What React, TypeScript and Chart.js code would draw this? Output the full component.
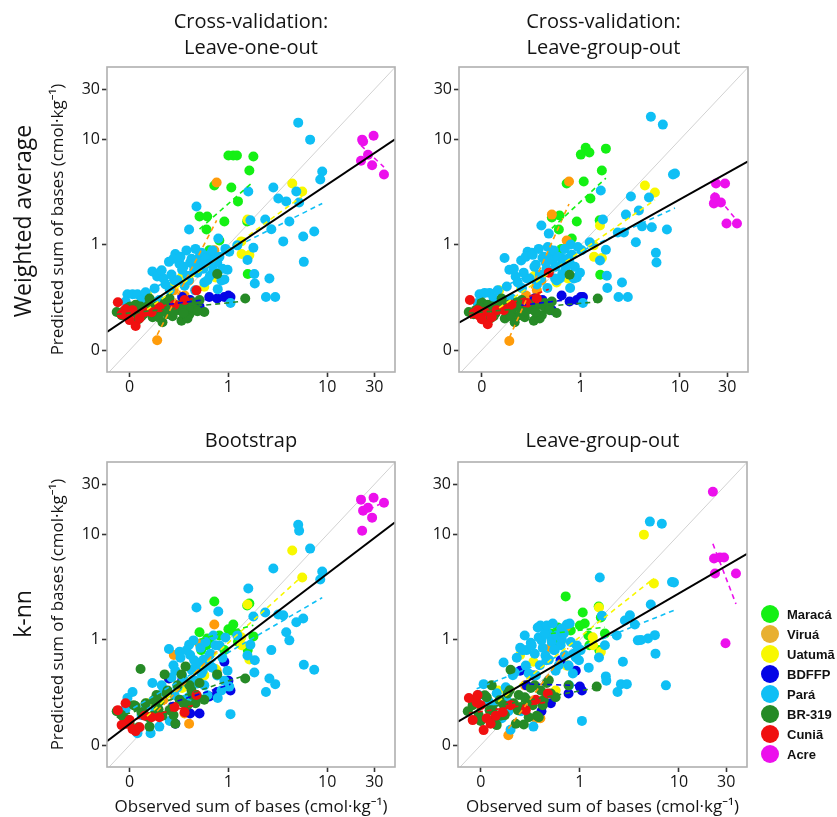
import React, { useEffect, useRef } from 'react';
import { Chart, registerables } from 'chart.js';

Chart.register(...registerables);
Chart.defaults.font.family = "'Open Sans', 'Noto Sans', 'DejaVu Sans', sans-serif";

// ---------- categories ----------
const groupNames = ['Maracá', 'Viruá', 'Uatumã', 'BDFFP', 'Pará', 'BR-319', 'Cuniã', 'Acre'];

// ---------- axis ticks (log axis; lowest tick labelled "0") ----------
const tickValues = [0.1, 1, 10, 30];
const tickLabels = ['0', '1', '10', '30'];

// ---------- observed sum of bases (cmol·kg-1) ----------
const maracaObs = [0.51, 0.61, 0.6, 0.72, 0.91, 1.0, 1.07, 1.12, 1.22, 1.25, 1.55, 1.57, 1.63, 1.79, 0.53, 0.64, 0.81];
const viruaObs = [0.19, 0.22, 0.28, 0.36, 0.4, 0.51, 0.72, 0.76];
const uatumaObs = [0.15, 0.25, 0.34, 0.57, 0.74, 1.35, 1.36, 1.56, 1.63, 4.43, 5.59];
const bdffpObs = [0.25, 0.29, 0.34, 0.41, 0.51, 0.64, 0.77, 0.91, 1.0, 1.05];
const paraObs = [5.09, 6.72, 8.91, 8.51, 2.85, 4.87, 3.2, 3.85, 5.2, 1.59, 0.475, 0.4, 2.36, 1.67, 4.14, 2.72, 7.39, 5.72, 3.59, 1.23, 1.79, 1.02, 0.79, 5.8, 0.64, 0.51, 0.29, 0.77, 1.83, 2.6, 1.85, 0.91, 2.4, 2.98, 1.05, 0.25, 0.17, 0.19, 0.22, 0.32, 0.34, 0.45, 0.55, 0.41, 0.57, 0.74, 0.98, 0.78, 0.095, 0.107, 0.12, 0.091, 0.163, 0.285, 0.36, 0.46, 0.255, 0.65, 1.56, 0.2, 0.385, 0.85,
  0.179, 0.211, 0.231, 0.265, 0.278, 0.305, 0.327, 0.351, 0.376, 0.395, 0.423, 0.443, 0.464, 0.486, 0.521, 0.533, 0.559, 0.586, 0.614, 0.658, 0.689, 0.705, 0.811, 0.87, 0.932, 0.132, 0.145, 0.183];
const br319Obs = [0.074, 0.087, 0.1, 0.115, 0.129, 0.145, 0.171, 0.187, 0.2, 0.226, 0.242, 0.272, 0.29, 0.32, 0.335, 0.368, 0.404, 0.433, 0.464, 0.51, 0.57, 0.77, 1.48, 0.159, 0.254, 0.132, 0.215, 0.385,
  0.083, 0.0954, 0.11, 0.123, 0.138, 0.155, 0.175, 0.196, 0.237, 0.278, 0.305, 0.351, 0.423, 0.486];
const cuniaObs = [0.076, 0.091, 0.093, 0.107, 0.115, 0.142, 0.2, 0.285, 0.36, 0.475, 0.083, 0.1, 0.126, 0.167];
const acreObs = [22.0, 22.6, 23.1, 25.9, 28.5, 29.5, 37.6];

// ---------- predicted: weighted average, cross-validation leave-one-out ----------
const maracaWaLoo = [1.86, 1.86, 1.4, 3.67, 1.67, 7.06, 3.51, 7.06, 7.06, 2.59, 1.67, 0.53, 5.09, 6.91, 0.8, 0.89, 1.1];
const viruaWaLoo = [0.124, 0.24, 0.37, 0.33, 0.46, 0.64, 0.89, 3.92];
const uatumaWaLoo = [0.34, 0.4, 0.5, 0.4, 0.49, 1.08, 0.82, 1.74, 0.8, 3.83, 3.21];
const bdffpWaLoo = [0.27, 0.26, 0.32, 0.3, 0.26, 0.32, 0.31, 0.32, 0.33, 0.32];
const paraWaLoo = [14.5, 10.0, 4.98, 4.18, 3.51, 3.21, 2.76, 2.59, 2.53, 3.21, 2.32, 1.4, 1.74, 1.71, 1.67, 1.41, 1.34, 1.2, 1.08, 0.99, 0.94, 0.86, 1.15, 0.69, 0.8, 0.77, 0.82, 0.68, 0.53, 0.48, 0.43, 0.47, 0.32, 0.32, 0.28, 0.69, 0.56, 0.5, 0.48, 0.66, 0.58, 0.58, 0.61, 0.68, 0.44, 0.75, 0.58, 0.38, 0.34, 0.34, 0.34, 0.29, 0.245, 0.46, 0.41, 0.37, 0.37, 0.51, 0.72, 0.3, 0.51, 0.46,
  0.386, 0.574, 0.421, 0.522, 0.738, 0.461, 0.77, 0.621, 0.887, 0.461, 0.738, 0.648, 0.916, 0.545, 0.677, 0.84, 0.594, 0.738, 0.461, 0.662, 0.887, 0.574, 0.77, 0.594, 0.916, 0.298, 0.354, 0.285];
const br319WaLoo = [0.23, 0.234, 0.26, 0.27, 0.26, 0.245, 0.205, 0.26, 0.23, 0.28, 0.22, 0.21, 0.25, 0.24, 0.19, 0.26, 0.22, 0.285, 0.245, 0.3, 0.23, 0.53, 0.31, 0.31, 0.31, 0.21, 0.184, 0.2,
  0.215, 0.25, 0.229, 0.197, 0.219, 0.267, 0.24, 0.205, 0.25, 0.229, 0.267, 0.224, 0.256, 0.234];
const cuniaWaLoo = [0.285, 0.245, 0.21, 0.24, 0.17, 0.23, 0.255, 0.27, 0.3, 0.37, 0.219, 0.193, 0.201, 0.229];
const acreWaLoo = [6.3, 10.0, 9.6, 7.2, 5.7, 10.9, 4.66];

// ---------- predicted: weighted average, cross-validation leave-group-out ----------
const maracaWaLgo = [1.82, 1.9, 1.4, 3.83, 1.67, 7.21, 4.0, 8.39, 7.54, 2.76, 1.71, 0.52, 5.09, 8.21, 0.84, 0.916, 1.15];
const viruaWaLgo = [0.122, 0.215, 0.33, 0.37, 0.46, 1.94, 1.1, 4.0];
const uatumaWaLgo = [0.37, 0.39, 0.51, 0.44, 0.48, 0.99, 0.77, 1.53, 0.75, 3.67, 3.15];
const bdffpWaLgo = [0.26, 0.26, 0.31, 0.3, 0.24, 0.33, 0.29, 0.3, 0.32, 0.32];
const paraWaLgo = [16.5, 13.9, 4.77, 4.66, 1.94, 2.82, 2.88, 2.12, 1.47, 3.29, 1.28, 1.53, 1.31, 1.74, 1.5, 1.31, 1.4, 0.84, 1.06, 1.06, 0.9, 0.89, 1.01, 0.68, 0.75, 0.8, 0.86, 0.68, 0.51, 0.44, 0.39, 0.49, 0.32, 0.32, 0.28, 0.71, 0.75, 0.58, 0.5, 0.84, 0.62, 0.59, 0.48, 0.75, 0.46, 0.74, 0.545, 0.39, 0.34, 0.35, 0.35, 0.28, 0.26, 0.48, 0.42, 0.39, 0.39, 0.53, 0.71, 0.31, 0.52, 0.48,
  0.403, 0.594, 0.439, 0.545, 0.77, 0.479, 0.804, 0.648, 0.916, 0.479, 0.77, 0.677, 0.956, 0.574, 0.713, 0.887, 0.621, 0.77, 0.479, 0.691, 0.916, 0.594, 0.804, 0.621, 0.956, 0.311, 0.371, 0.298];
const br319WaLgo = [0.23, 0.24, 0.285, 0.27, 0.26, 0.25, 0.2, 0.27, 0.23, 0.285, 0.215, 0.205, 0.25, 0.245, 0.19, 0.27, 0.215, 0.28, 0.25, 0.29, 0.225, 0.52, 0.31, 0.31, 0.3, 0.21, 0.184, 0.2,
  0.219, 0.256, 0.234, 0.201, 0.224, 0.273, 0.245, 0.21, 0.256, 0.234, 0.273, 0.229, 0.261, 0.24];
const cuniaWaLgo = [0.3, 0.24, 0.215, 0.23, 0.176, 0.24, 0.27, 0.28, 0.31, 0.545, 0.224, 0.197, 0.205, 0.24];
const acreWaLgo = [2.48, 2.82, 3.83, 2.53, 3.83, 1.6, 1.6];

// ---------- predicted: k-nn, bootstrap ----------
const maracaKnnBoot = [1.18, 1.03, 0.89, 2.32, 0.8, 1.26, 1.23, 1.4, 1.15, 0.96, 2.12, 0.8, 2.22, 1.08, 0.8, 0.99, 1.1];
const viruaKnnBoot = [0.19, 0.27, 0.72, 0.2, 0.16, 0.92, 1.4, 0.51];
const uatumaKnnBoot = [0.25, 0.43, 0.35, 0.46, 0.53, 1.06, 0.89, 2.17, 0.65, 7.06, 3.92];
const bdffpKnnBoot = [0.43, 0.16, 0.41, 0.2, 0.2, 0.29, 0.32, 0.62, 0.41, 0.33];
const paraKnnBoot = [12.4, 7.37, 4.47, 3.75, 4.77, 1.47, 1.74, 1.18, 10.9, 3.08, 2.03, 0.9, 1.82, 0.9, 0.99, 0.8, 0.52, 1.6, 1.71, 1.1, 1.67, 0.36, 1.86, 0.58, 0.71, 0.57, 0.51, 0.46, 0.49, 0.43, 0.64, 0.41, 0.32, 0.38, 0.197, 0.82, 0.39, 0.24, 0.33, 0.77, 0.46, 0.64, 0.51, 0.72, 0.37, 0.89, 0.51, 0.28, 0.28, 0.32, 0.13, 0.22, 0.13, 0.3, 0.27, 0.41, 0.17, 0.57, 0.71, 0.15, 0.39, 0.33,
  0.267, 0.371, 0.311, 0.439, 0.574, 0.354, 0.677, 0.421, 0.796, 0.285, 0.522, 0.989, 0.621, 0.386, 0.84, 0.479, 0.648, 0.956, 0.298, 0.738, 0.545, 1.1, 0.887, 0.677, 1.055, 0.193, 0.24, 0.215];
const br319KnnBoot = [0.21, 0.184, 0.16, 0.234, 0.53, 0.25, 0.19, 0.3, 0.26, 0.47, 0.33, 0.23, 0.16, 0.27, 0.47, 0.56, 0.37, 0.3, 0.25, 0.39, 0.27, 0.47, 0.43, 0.15, 0.215, 0.205, 0.19, 0.24,
  0.193, 0.173, 0.24, 0.148, 0.205, 0.184, 0.267, 0.219, 0.311, 0.193, 0.371, 0.25, 0.332, 0.285];
const cuniaKnnBoot = [0.215, 0.25, 0.16, 0.142, 0.136, 0.19, 0.184, 0.23, 0.205, 0.3, 0.155, 0.173, 0.148, 0.184];
const acreKnnBoot = [21.5, 10.9, 16.9, 18.0, 14.5, 22.4, 20.1];

// ---------- predicted: k-nn, leave-group-out ----------
const maracaKnnLgo = [1.15, 1.03, 1.31, 2.59, 0.74, 1.37, 1.82, 1.43, 1.1, 0.89, 2.08, 0.8, 1.63, 1.15, 0.89, 0.96, 1.23];
const viruaKnnLgo = [0.124, 0.24, 0.37, 0.18, 0.18, 0.84, 1.31, 0.57];
const uatumaKnnLgo = [0.33, 0.72, 0.62, 0.33, 0.57, 1.06, 0.89, 2.03, 0.77, 10.0, 3.43];
const bdffpKnnLgo = [0.51, 0.37, 0.46, 0.21, 0.25, 0.64, 0.31, 0.51, 0.36, 0.33];
const paraKnnLgo = [13.3, 12.7, 3.51, 3.55, 1.53, 1.03, 1.71, 0.99, 2.17, 3.92, 1.15, 1.37, 1.1, 1.7, 1.0, 0.62, 0.37, 1.11, 1.4, 0.545, 0.89, 0.8, 1.43, 0.74, 0.89, 1.06, 0.8, 0.57, 0.45, 0.38, 0.41, 0.68, 0.32, 0.38, 0.17, 0.84, 0.61, 0.21, 0.49, 0.94, 0.15, 0.71, 0.8, 0.99, 0.51, 1.4, 0.64, 0.37, 0.3, 0.38, 0.26, 0.26, 0.18, 0.57, 0.46, 0.64, 0.21, 1.28, 0.68, 0.14, 1.06, 0.48,
  0.354, 0.461, 0.677, 0.796, 1.1, 0.479, 0.887, 0.738, 1.31, 0.574, 0.84, 1.15, 1.37, 0.648, 0.956, 1.43, 0.804, 1.1, 0.574, 1.01, 1.15, 0.713, 0.956, 0.738, 0.887, 0.24, 0.311, 0.267];
const br319KnnLgo = [0.21, 0.27, 0.17, 0.285, 0.37, 0.155, 0.24, 0.31, 0.52, 0.16, 0.3, 0.157, 0.27, 0.35, 0.24, 0.19, 0.33, 0.27, 0.39, 0.31, 0.285, 0.37, 0.36, 0.19, 0.23, 0.215, 0.25, 0.184,
  0.24, 0.193, 0.298, 0.215, 0.173, 0.267, 0.193, 0.332, 0.215, 0.285, 0.184, 0.371, 0.24, 0.413];
const cuniaKnnLgo = [0.28, 0.255, 0.3, 0.139, 0.18, 0.19, 0.24, 0.215, 0.27, 0.31, 0.173, 0.24, 0.16, 0.205];
const acreKnnLgo = [25.6, 5.93, 4.27, 6.06, 6.06, 0.93, 4.27];

// ---------- assembled tables ----------
const observed = [maracaObs, viruaObs, uatumaObs, bdffpObs, paraObs, br319Obs, cuniaObs, acreObs];
const predWaLoo = [maracaWaLoo, viruaWaLoo, uatumaWaLoo, bdffpWaLoo, paraWaLoo, br319WaLoo, cuniaWaLoo, acreWaLoo];
const predWaLgo = [maracaWaLgo, viruaWaLgo, uatumaWaLgo, bdffpWaLgo, paraWaLgo, br319WaLgo, cuniaWaLgo, acreWaLgo];
const predKnnBoot = [maracaKnnBoot, viruaKnnBoot, uatumaKnnBoot, bdffpKnnBoot, paraKnnBoot, br319KnnBoot, cuniaKnnBoot, acreKnnBoot];
const predKnnLgo = [maracaKnnLgo, viruaKnnLgo, uatumaKnnLgo, bdffpKnnLgo, paraKnnLgo, br319KnnLgo, cuniaKnnLgo, acreKnnLgo];

// ---------- styles ----------
const pointColors = ['#14f014', '#ff9c0a', '#f8f800', '#0505e6', '#0fbff5', '#268a26', '#f01010', '#ec10ec'];
const legendColors = ['#14f014', '#e8b030', '#f8f800', '#0505e6', '#0fbff5', '#268a26', '#f01010', '#ec10ec'];
const X_MIN = 0.059;
const X_MAX = 48.6;
const Y_MIN = 0.062;
const Y_MAX = 49;
const FONT = "'Open Sans', 'Noto Sans', 'DejaVu Sans', sans-serif";
const Y_TITLE = 'Predicted sum of bases (cmol·kg⁻¹)';
const X_TITLE = 'Observed sum of bases (cmol·kg⁻¹)';

const panels = [
  { title: ['Cross-validation:', 'Leave-one-out'], pred: predWaLoo, left: 0, top: 0, w: 420, h: 400, yw: 107, xh: 28, padRight: 25, tTop: 9.7, tBottom: 5.3, yTitle: true, xTitle: false },
  { title: ['Cross-validation:', 'Leave-group-out'], pred: predWaLgo, left: 420, top: 0, w: 417, h: 400, yw: 39, xh: 28, padRight: 89, tTop: 9.7, tBottom: 5.3, yTitle: false, xTitle: false },
  { title: 'Bootstrap', pred: predKnnBoot, left: 0, top: 400, w: 420, h: 417, yw: 107, xh: 50, padRight: 25, tTop: 28.7, tBottom: 7.3, yTitle: true, xTitle: true },
  { title: 'Leave-group-out', pred: predKnnLgo, left: 420, top: 400, w: 417, h: 417, yw: 38, xh: 50, padRight: 90, tTop: 28.7, tBottom: 7.3, yTitle: false, xTitle: true },
];

function logFit(xs: number[], ys: number[]) {
  const lx = xs.map((v) => Math.log10(v));
  const ly = ys.map((v) => Math.log10(v));
  const n = lx.length;
  const mx = lx.reduce((a, b) => a + b, 0) / n;
  const my = ly.reduce((a, b) => a + b, 0) / n;
  let sxx = 0;
  let sxy = 0;
  for (let i = 0; i < n; i++) {
    sxx += (lx[i] - mx) * (lx[i] - mx);
    sxy += (lx[i] - mx) * (ly[i] - my);
  }
  const b = sxx > 0 ? sxy / sxx : 0;
  const a = my - b * mx;
  return (x: number) => Math.pow(10, a + b * Math.log10(x));
}

const framePlugin = {
  id: 'frame',
  afterDatasetsDraw(chart: any) {
    const { ctx, chartArea } = chart;
    const { left, top, right, bottom } = chartArea;
    ctx.save();
    ctx.strokeStyle = '#b0b0b0';
    ctx.lineWidth = 1.6;
    ctx.strokeRect(left, top, right - left, bottom - top);
    ctx.restore();
  },
};

function buildConfig(p: any) {
  const datasets: any[] = [];
  const allX: number[] = [];
  const allY: number[] = [];
  groupNames.forEach((name, g) => {
    const xs = observed[g];
    const ys = p.pred[g];
    allX.push(...xs);
    allY.push(...ys);
    datasets.push({
      label: name,
      data: xs.map((x: number, i: number) => ({ x, y: ys[i] })),
      backgroundColor: pointColors[g],
      borderWidth: 0,
      pointRadius: 5,
      pointBorderWidth: 0,
      order: 20 - g,
    });
    const f = logFit(xs, ys);
    const lo = Math.min(...xs);
    const hi = Math.max(...xs);
    datasets.push({
      label: name + ' fit',
      data: [{ x: lo, y: f(lo) }, { x: hi, y: f(hi) }],
      showLine: true,
      borderColor: pointColors[g],
      borderWidth: 1.6,
      borderDash: [5, 4],
      pointRadius: 0,
      fill: false,
      order: 2,
    });
  });
  const F = logFit(allX, allY);
  datasets.push({
    label: 'overall fit',
    data: [{ x: X_MIN, y: F(X_MIN) }, { x: X_MAX, y: F(X_MAX) }],
    showLine: true,
    borderColor: '#000000',
    borderWidth: 2,
    pointRadius: 0,
    fill: false,
    order: 0,
  });
  datasets.push({
    label: '1:1',
    data: [{ x: X_MIN, y: X_MIN }, { x: X_MAX, y: X_MAX }],
    showLine: true,
    borderColor: '#d2d2d2',
    borderWidth: 1,
    pointRadius: 0,
    fill: false,
    order: 50,
  });

  const tickFont = { size: 16, family: FONT };
  const grid = {
    display: true,
    drawOnChartArea: false,
    drawTicks: true,
    tickLength: 5,
    tickColor: '#333333',
    tickWidth: 1.6,
  };
  return {
    type: 'scatter',
    data: { datasets },
    plugins: [framePlugin],
    options: {
      responsive: false,
      animation: false,
      events: [],
      layout: { padding: { left: 0, right: p.padRight, top: 0, bottom: 0 } },
      plugins: {
        legend: { display: false },
        tooltip: { enabled: false },
        title: {
          display: true,
          text: p.title,
          fullSize: false,
          color: '#141414',
          font: { size: 20, family: FONT, weight: 'normal', lineHeight: 1.3 },
          padding: { top: p.tTop, bottom: p.tBottom },
        },
      },
      scales: {
        x: {
          type: 'logarithmic',
          min: X_MIN,
          max: X_MAX,
          afterBuildTicks: (s: any) => {
            s.ticks = tickValues.map((v) => ({ value: v }));
          },
          afterFit: (s: any) => {
            s.height = p.xh;
          },
          ticks: {
            callback: (_v: any, i: number) => tickLabels[i],
            font: tickFont,
            color: '#141414',
            padding: 1,
            maxRotation: 0,
            autoSkip: false,
          },
          grid,
          border: { display: false },
          title: {
            display: p.xTitle,
            text: X_TITLE,
            color: '#141414',
            font: { size: 17, family: FONT },
            padding: { top: 0, bottom: 0 },
          },
        },
        y: {
          type: 'logarithmic',
          min: Y_MIN,
          max: Y_MAX,
          afterBuildTicks: (s: any) => {
            s.ticks = tickValues.map((v) => ({ value: v }));
          },
          afterFit: (s: any) => {
            s.width = p.yw;
          },
          ticks: {
            callback: (_v: any, i: number) => tickLabels[i],
            font: tickFont,
            color: '#141414',
            padding: 2,
            autoSkip: false,
          },
          grid,
          border: { display: false },
          title: {
            display: p.yTitle,
            text: Y_TITLE,
            color: '#141414',
            font: { size: 17, family: FONT },
            padding: { top: 47.8, bottom: 0 },
          },
        },
      },
    },
  };
}

function Panel({ p }: { p: any }) {
  const ref = useRef<HTMLCanvasElement | null>(null);
  useEffect(() => {
    if (!ref.current) return;
    const chart = new Chart(ref.current, buildConfig(p) as any);
    return () => chart.destroy();
  }, [p]);
  return (
    <canvas
      ref={ref}
      width={p.w}
      height={p.h}
      style={{ position: 'absolute', left: p.left, top: p.top, width: p.w, height: p.h }}
    />
  );
}

const rowLabelStyle: React.CSSProperties = {
  position: 'absolute',
  transform: 'translate(-50%, -50%) rotate(-90deg)',
  whiteSpace: 'nowrap',
  fontFamily: FONT,
  fontSize: 23,
  color: '#141414',
  lineHeight: 1,
};

export default function App() {
  return (
    <div
      style={{
        position: 'absolute',
        left: 0,
        top: 0,
        width: 837,
        height: 817,
        overflow: 'hidden',
        background: '#ffffff',
      }}
    >
      {panels.map((p, i) => (
        <Panel key={i} p={p} />
      ))}
      <div style={{ ...rowLabelStyle, left: 22, top: 221 }}>Weighted average</div>
      <div style={{ ...rowLabelStyle, left: 22, top: 614 }}>k-nn</div>
      {groupNames.map((name, i) => (
        <div
          key={name}
          style={{
            position: 'absolute',
            left: 761,
            top: 605 + i * 20,
            height: 18,
            display: 'flex',
            alignItems: 'center',
            whiteSpace: 'nowrap',
          }}
        >
          <span
            style={{
              display: 'inline-block',
              width: 18,
              height: 18,
              borderRadius: '50%',
              background: legendColors[i],
            }}
          />
          <span
            style={{
              marginLeft: 8,
              fontFamily: "'Liberation Sans', Arial, sans-serif",
              fontWeight: 'bold',
              fontSize: 13,
              color: '#111111',
            }}
          >
            {name}
          </span>
        </div>
      ))}
    </div>
  );
}
